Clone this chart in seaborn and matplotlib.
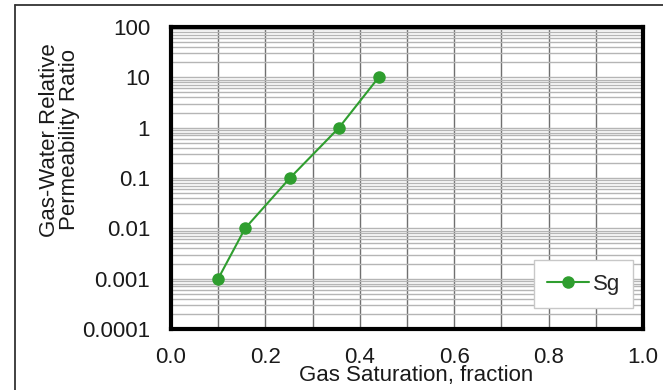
import matplotlib
matplotlib.use("Agg")
import matplotlib.pyplot as plt
import seaborn as sns
import pandas as pd
import numpy as np
from matplotlib.ticker import LogLocator, FixedLocator, NullFormatter
from matplotlib.lines import Line2D

sns.set_theme(style="white")
plt.rcParams['font.family'] = ['Liberation Sans', 'DejaVu Sans']

gas_saturation = [0.10, 0.157, 0.252, 0.356, 0.44]
perm_ratio = [0.001, 0.01, 0.1, 1.0, 10.0]
series_name = "Sg"
x_ticks = [0.0, 0.2, 0.4, 0.6, 0.8, 1.0]
x_tick_labels = ["0.0", "0.2", "0.4", "0.6", "0.8", "1.0"]
y_ticks = [0.0001, 0.001, 0.01, 0.1, 1, 10, 100]
y_tick_labels = ["0.0001", "0.001", "0.01", "0.1", "1", "10", "100"]

df = pd.DataFrame({"x": gas_saturation, "y": perm_ratio, "series": series_name})

W, H = 663, 390
fig = plt.figure(figsize=(W / 100, H / 100), dpi=100)
ax = fig.add_axes([171 / W, 1 - 329 / H, (643 - 171) / W, (329 - 27) / H])

green = "#2f9e2f"
sns.lineplot(data=df, x="x", y="y", hue="series", palette=[green], marker="o",
             markersize=9, markeredgewidth=0, linewidth=1.5, ax=ax, zorder=5)

ax.set_yscale("log")
ax.set_xlim(0, 1.0)
ax.set_ylim(1e-4, 100)

fs = 16
ax.set_xticks(x_ticks)
ax.set_xticklabels(x_tick_labels, fontsize=fs)
ax.set_yticks(y_ticks)
ax.set_yticklabels(y_tick_labels, fontsize=fs)
ax.yaxis.set_minor_locator(LogLocator(base=10, subs=np.arange(2, 10)))
ax.yaxis.set_minor_formatter(NullFormatter())
ax.xaxis.set_minor_locator(FixedLocator(np.arange(0.1, 1.0, 0.2)))

ax.grid(which="major", axis="x", color="#707070", linewidth=1.0)
ax.grid(which="minor", axis="x", color="#707070", linewidth=1.0)
ax.grid(which="major", axis="y", color="#b5b5b5", linewidth=1.0)
ax.grid(which="minor", axis="y", color="#b5b5b5", linewidth=1.0)
ax.tick_params(which="both", length=0, colors="#1a1a1a")
ax.tick_params(axis="x", pad=13)
ax.tick_params(axis="y", pad=15)

for s in ax.spines.values():
    s.set_visible(True)
    s.set_color("black")
    s.set_linewidth(3)

ax.set_xlabel("Gas Saturation, fraction", fontsize=fs, color="#1a1a1a")
ax.xaxis.set_label_coords(0.52, -0.118)
ax.set_ylabel("Gas-Water Relative\nPermeability Ratio", fontsize=fs, linespacing=0.95,
              color="#1a1a1a")
ax.yaxis.set_label_coords(-0.193, 0.626)

leg = ax.legend(loc="lower right", bbox_to_anchor=(0.979, 0.07), borderaxespad=0,
                fontsize=fs, frameon=True, fancybox=False, handlelength=1.9,
                borderpad=0.6, handletextpad=0.15)
leg.get_frame().set_edgecolor("#c8c8c8")
leg.get_frame().set_linewidth(1.0)
leg.get_frame().set_alpha(1)

bx = 15 / W
by = 1 - 5 / H
fig.lines.append(Line2D([bx, 1.0], [by, by], transform=fig.transFigure,
                        color="#333333", linewidth=1.3))
fig.lines.append(Line2D([bx, bx], [0.0, by], transform=fig.transFigure,
                        color="#333333", linewidth=1.3))

fig.savefig("out.png", dpi=100)
